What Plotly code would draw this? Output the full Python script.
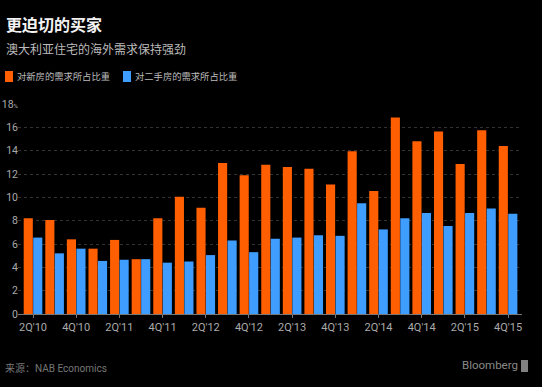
import plotly.graph_objects as go

quarters = ["2Q'10", "3Q'10", "4Q'10", "1Q'11", "2Q'11", "3Q'11", "4Q'11", "1Q'12",
            "2Q'12", "3Q'12", "4Q'12", "1Q'13", "2Q'13", "3Q'13", "4Q'13", "1Q'14",
            "2Q'14", "3Q'14", "4Q'14", "1Q'15", "2Q'15", "3Q'15", "4Q'15"]
new_homes = [8.2, 8.05, 6.4, 5.6, 6.35, 4.7, 8.2, 10.05, 9.1, 12.95, 11.9, 12.8,
             12.6, 12.45, 11.1, 13.95, 10.55, 16.85, 14.8, 15.65, 12.85, 15.75, 14.4]
existing_homes = [6.55, 5.2, 5.6, 4.55, 4.65, 4.7, 4.4, 4.5, 5.05, 6.3, 5.3, 6.45,
                  6.55, 6.75, 6.7, 9.5, 7.25, 8.2, 8.65, 7.55, 8.65, 9.05, 8.6]
y_ticks = [0, 2, 4, 6, 8, 10, 12, 14, 16, 18]
y_tick_text = ["0", "2", "4", "6", "8", "10", "12", "14", "16",
               "18<span style='font-size:6px'>%</span>"]
x_tick_labels = quarters[::2]

title = "更迫切的买家"
subtitle = "澳大利亚住宅的海外需求保持强劲"
name_new = "对新房的需求所占比重"
name_existing = "对二手房的需求所占比重"
source = "来源：NAB Economics"

COLOR_NEW = "#FF5F00"
COLOR_EXISTING = "#3E9DFF"
FONT = "Liberation Sans Narrow, Roboto, Noto Sans CJK SC, sans-serif"
CJK = "Noto Sans CJK SC, sans-serif"

W, H = 542, 387
L, R, T, B = 18, 20, 104, 73
PW, PH = W - L - R, H - T - B


def px(x):
    return (x - L) / PW


def py(y):
    return (H - B - y) / PH


fig = go.Figure()
fig.add_trace(go.Bar(x=quarters, y=new_homes, name=name_new,
                     marker=dict(color=COLOR_NEW, line=dict(width=0))))
fig.add_trace(go.Bar(x=quarters, y=existing_homes, name=name_existing,
                     marker=dict(color=COLOR_EXISTING, line=dict(width=0))))

annotations = [
    dict(text="<b>" + title + "</b>", x=px(4), y=py(24),
         font=dict(family=CJK, size=16, color="#f2f2f2")),
    dict(text=subtitle, x=px(4), y=py(48), font=dict(family=CJK, size=12, color="#bbbbbb")),
    dict(text=name_new, x=px(15), y=py(76), font=dict(family=CJK, size=9.3, color="#bbbbbb")),
    dict(text=name_existing, x=px(133), y=py(76), font=dict(family=CJK, size=9.3, color="#bbbbbb")),
    dict(text=source, x=px(3), y=py(368), font=dict(family=FONT, size=10, color="#777777")),
    dict(text="Bloomberg", x=px(460), y=py(365), font=dict(family=FONT, size=11.5, color="#888888")),
]
for a in annotations:
    a.update(xref="paper", yref="paper", xanchor="left", yanchor="middle",
             showarrow=False)

shapes = [
    dict(type="rect", x0=px(5), x1=px(13), y0=py(82), y1=py(71),
         fillcolor=COLOR_NEW, line=dict(width=0)),
    dict(type="rect", x0=px(123), x1=px(131), y0=py(82), y1=py(71),
         fillcolor=COLOR_EXISTING, line=dict(width=0)),
    dict(type="rect", x0=px(521), x1=px(528), y0=py(372), y1=py(360),
         fillcolor="#808080", line=dict(width=0)),
]
for s in shapes:
    s.update(xref="paper", yref="paper")

fig.update_layout(
    width=W, height=H,
    paper_bgcolor="black", plot_bgcolor="black",
    margin=dict(l=L, r=R, t=T, b=B, autoexpand=False),
    barmode="group", bargap=0.12, bargroupgap=0.04,
    font=dict(family=FONT, color="#aaaaaa", size=11),
    showlegend=False,
    xaxis=dict(type="category", range=[-0.695, 22.645], tickmode="array",
               tickvals=x_tick_labels, ticktext=x_tick_labels, showgrid=False,
               showline=True, linecolor="#777777", linewidth=1, ticks="outside",
               ticklen=3, tickcolor="#777777",
               tickfont=dict(size=11, color="#aaaaaa", family=FONT),
               zeroline=False, automargin=False),
    yaxis=dict(range=[0, 18], tickmode="array", tickvals=y_ticks, ticktext=y_tick_text,
               showgrid=True, gridcolor="#333333", griddash="dot", gridwidth=1,
               zeroline=False, showline=False, ticks="", automargin=False,
               ticklabelstandoff=-1,
               tickfont=dict(size=10.5, color="#aaaaaa", family=FONT)),
    annotations=annotations,
    shapes=shapes,
)

fig.write_html("out.html", config={"displayModeBar": False},
               post_script="document.body.style.margin='0px';")
